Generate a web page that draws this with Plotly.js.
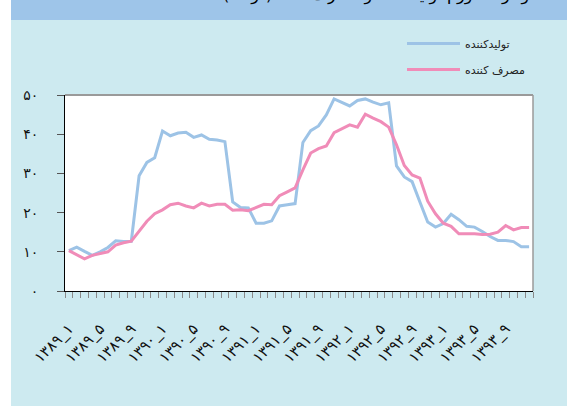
<!DOCTYPE html>
<html>
<head>
<meta charset="utf-8">
<script src="https://cdn.plot.ly/plotly-3.0.1.min.js"></script>
<style>html,body{margin:0;padding:0;background:#fff;}#chart{width:567px;height:406px;}</style>
</head>
<body>
<div id="chart"></div>
<script>
var months = [
"۱۳۸۹_۱","۱۳۸۹_۲","۱۳۸۹_۳","۱۳۸۹_۴","۱۳۸۹_۵","۱۳۸۹_۶","۱۳۸۹_۷","۱۳۸۹_۸","۱۳۸۹_۹","۱۳۸۹_۱۰","۱۳۸۹_۱۱","۱۳۸۹_۱۲",
"۱۳۹۰_۱","۱۳۹۰_۲","۱۳۹۰_۳","۱۳۹۰_۴","۱۳۹۰_۵","۱۳۹۰_۶","۱۳۹۰_۷","۱۳۹۰_۸","۱۳۹۰_۹","۱۳۹۰_۱۰","۱۳۹۰_۱۱","۱۳۹۰_۱۲",
"۱۳۹۱_۱","۱۳۹۱_۲","۱۳۹۱_۳","۱۳۹۱_۴","۱۳۹۱_۵","۱۳۹۱_۶","۱۳۹۱_۷","۱۳۹۱_۸","۱۳۹۱_۹","۱۳۹۱_۱۰","۱۳۹۱_۱۱","۱۳۹۱_۱۲",
"۱۳۹۲_۱","۱۳۹۲_۲","۱۳۹۲_۳","۱۳۹۲_۴","۱۳۹۲_۵","۱۳۹۲_۶","۱۳۹۲_۷","۱۳۹۲_۸","۱۳۹۲_۹","۱۳۹۲_۱۰","۱۳۹۲_۱۱","۱۳۹۲_۱۲",
"۱۳۹۳_۱","۱۳۹۳_۲","۱۳۹۳_۳","۱۳۹۳_۴","۱۳۹۳_۵","۱۳۹۳_۶","۱۳۹۳_۷","۱۳۹۳_۸","۱۳۹۳_۹","۱۳۹۳_۱۰","۱۳۹۳_۱۱","۱۳۹۳_۱۲"
];
var xTickLabels = ["۱۳۸۹_۱","۱۳۸۹_۵","۱۳۸۹_۹","۱۳۹۰_۱","۱۳۹۰_۵","۱۳۹۰_۹","۱۳۹۱_۱","۱۳۹۱_۵","۱۳۹۱_۹","۱۳۹۲_۱","۱۳۹۲_۵","۱۳۹۲_۹","۱۳۹۳_۱","۱۳۹۳_۵","۱۳۹۳_۹"];
var producer = [10.3,11.2,10.1,9.1,10.0,11.1,12.8,12.6,12.7,29.4,32.8,34.0,
40.8,39.6,40.3,40.5,39.2,39.8,38.7,38.5,38.1,22.7,21.3,21.2,
17.3,17.3,17.9,21.7,22.0,22.3,37.9,40.9,42.1,44.9,49.0,48.2,
47.2,48.6,49.0,48.2,47.5,48.0,31.9,29.1,27.9,22.7,17.6,16.3,
17.2,19.6,18.2,16.5,16.3,15.2,13.9,12.9,12.9,12.6,11.3,11.3];
var consumer = [10.3,9.2,8.2,9.1,9.5,10.0,11.7,12.3,12.7,15.2,17.8,19.7,
20.7,22.0,22.4,21.7,21.2,22.4,21.7,22.1,22.1,20.6,20.7,20.5,
21.2,22.1,22.0,24.3,25.3,26.3,30.9,35.2,36.3,37.0,40.4,41.3,
42.4,41.8,45.1,44.1,43.2,41.8,37.3,32.0,29.6,28.8,22.9,19.7,
17.3,16.5,14.6,14.6,14.6,14.4,14.5,15.0,16.7,15.6,16.2,16.2];
var seriesNames = ["تولیدکننده","مصرف کننده"];
var yTickVals = [0,10,20,30,40,50];
var yTickText = ["۰","۱۰","۲۰","۳۰","۴۰","۵۰"];

var tickText = months.map(function(m){ return xTickLabels.indexOf(m) >= 0 ? m : ""; });

var W = 567, H = 406, ML = 65, MR = 34, MT = 95, MB = 115;
var PW = W - ML - MR, PH = H - MT - MB;
function px(x){ return (x - ML) / PW; }
function py(y){ return (H - MB - y) / PH; }

var traces = [
  {x: months, y: producer, name: seriesNames[0], type: 'scatter', mode: 'lines',
   line: {color: '#9dc3e6', width: 3}, legendgroup: 'a'},
  {x: months, y: consumer, name: seriesNames[1], type: 'scatter', mode: 'lines',
   line: {color: '#f08cb8', width: 3}, legendgroup: 'b'}
];

var layout = {
  width: W, height: H,
  margin: {l: ML, r: MR, t: MT, b: MB, pad: 0},
  paper_bgcolor: '#cdeaf0',
  plot_bgcolor: '#ffffff',
  font: {family: 'DejaVu Sans', color: '#111'},
  showlegend: true,
  legend: {x: px(402), y: py(29), xanchor: 'left', yanchor: 'top', bgcolor: 'rgba(0,0,0,0)',
           font: {size: 11, family: 'DejaVu Sans', color: '#222'}, tracegroupgap: 7, traceorder: 'grouped', itemwidth: 53},
  xaxis: {
    type: 'category', range: [-0.5, 59.5], tickmode: 'array', tickvals: months, ticktext: tickText,
    tickson: 'boundaries', ticks: 'outside', ticklen: 6, tickcolor: '#8a8a8a', tickwidth: 1,
    tickangle: -45, tickfont: {size: 15, family: 'DejaVu Sans', color: '#111'},
    showline: true, linecolor: '#000', linewidth: 1, showgrid: false, zeroline: false,
    ticklabelstandoff: 22, automargin: false, fixedrange: true
  },
  yaxis: {
    range: [0, 50], tickmode: 'array', tickvals: yTickVals, ticktext: yTickText,
    ticks: 'outside', ticklen: 7, tickcolor: '#555', tickwidth: 1,
    tickfont: {size: 14, family: 'DejaVu Sans', color: '#111'},
    showline: true, linecolor: '#000', linewidth: 1, showgrid: false, zeroline: false,
    ticklabelstandoff: 16, automargin: false, fixedrange: true
  },
  shapes: [
    {type: 'rect', xref: 'paper', yref: 'paper', x0: px(0), x1: px(11), y0: py(H), y1: py(0),
     fillcolor: '#ffffff', line: {width: 0}, layer: 'below'},
    {type: 'rect', xref: 'paper', yref: 'paper', x0: px(11), x1: px(W), y0: py(20), y1: py(0),
     fillcolor: '#9ec5e9', line: {width: 0}, layer: 'below'},
    {type: 'line', xref: 'paper', yref: 'paper', x0: 0, x1: 1, y0: 1, y1: 1,
     line: {color: '#9a9a9a', width: 2}},
    {type: 'line', xref: 'paper', yref: 'paper', x0: 1, x1: 1, y0: 0, y1: 1,
     line: {color: '#9a9a9a', width: 1.5}}
  ],
  annotations: [
    {text: 'نمودار ۳- تورم تولیدکننده و مصرف‌کننده (درصد)', xref: 'paper', yref: 'paper',
     x: px(545), y: py(7), xanchor: 'right', yanchor: 'bottom', showarrow: false,
     font: {size: 16, family: 'DejaVu Sans', color: '#000'}}
  ]
};

Plotly.newPlot('chart', traces, layout, {displayModeBar: false, staticPlot: true});
</script>
</body>
</html>
